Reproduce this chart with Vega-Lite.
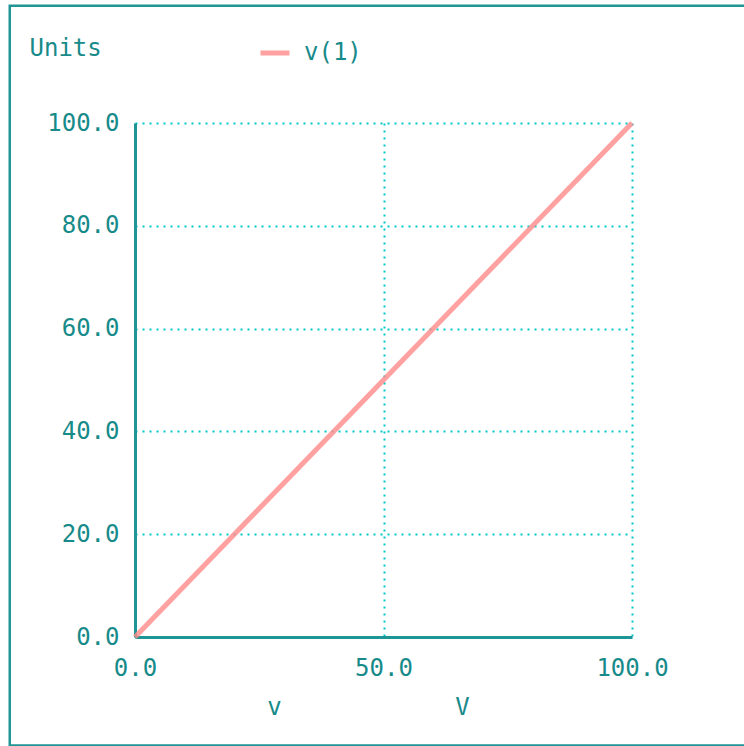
{
  "$schema": "https://vega.github.io/schema/vega-lite/v6.json",
  "autosize": "none",
  "width": 497,
  "height": 514,
  "padding": {"left": 135, "top": 123, "right": 112, "bottom": 109},
  "background": "white",
  "config": {
    "view": {"stroke": null},
    "font": "DejaVu Sans Mono"
  },
  "layer": [
    {
      "data": {"values": [
        {"v": 0, "value": 0, "series": "v(1)"},
        {"v": 100, "value": 100, "series": "v(1)"}
      ]},
      "mark": {"type": "line", "strokeWidth": 5, "opacity": 0.8, "strokeCap": "butt", "clip": false},
      "encoding": {
        "x": {
          "field": "v", "type": "quantitative",
          "scale": {"domain": [0, 100], "nice": false, "zero": false},
          "axis": {
            "values": [0, 50, 100], "format": ".1f",
            "title": "v\u00a0\u00a0\u00a0\u00a0\u00a0\u00a0\u00a0\u00a0\u00a0\u00a0\u00a0\u00a0V",
            "titleFont": "DejaVu Sans Mono", "titleFontSize": 24, "titleFontWeight": "normal",
            "titleColor": "#178a8a", "titleAlign": "center", "titleAnchor": null,
            "titleX": 233, "titleY": 70, "titleBaseline": "middle",
            "labelFont": "DejaVu Sans Mono", "labelFontSize": 24, "labelColor": "#178a8a",
            "labelPadding": 19, "labelFlush": false, "labelOverlap": false,
            "ticks": false, "domainColor": "#1f9595", "domainWidth": 3,
            "grid": true, "gridColor": "#00c8c8", "gridDash": [2, 5], "gridWidth": 2, "gridOpacity": 1
          }
        },
        "y": {
          "field": "value", "type": "quantitative",
          "scale": {"domain": [0, 100], "nice": false, "zero": false},
          "axis": {
            "values": [0, 20, 40, 60, 80, 100], "format": ".1f",
            "title": "Units",
            "titleFont": "DejaVu Sans Mono", "titleFontSize": 24, "titleFontWeight": "normal",
            "titleColor": "#178a8a", "titleAngle": 0, "titleAlign": "left", "titleAnchor": null,
            "titleX": -106, "titleY": -75, "titleBaseline": "middle",
            "labelFont": "DejaVu Sans Mono", "labelFontSize": 24, "labelColor": "#178a8a",
            "labelPadding": 16, "labelFlush": false, "labelOverlap": false, "labelBaseline": "middle",
            "ticks": false, "domainColor": "#1f9595", "domainWidth": 3,
            "grid": true, "gridColor": "#00c8c8", "gridDash": [2, 5], "gridWidth": 2, "gridOpacity": 1
          }
        },
        "color": {
          "field": "series", "type": "nominal",
          "scale": {"domain": ["v(1)"], "range": ["#ff8a8a"]},
          "legend": {
            "title": null, "orient": "none", "legendX": 123, "legendY": -87,
            "symbolType": "stroke", "symbolSize": 841, "symbolStrokeWidth": 5,
            "labelFont": "DejaVu Sans Mono", "labelFontSize": 24, "labelColor": "#178a8a",
            "labelOffset": 12, "padding": 0, "symbolOffset": 0
          }
        }
      }
    },
    {
      "data": {"values": [{"frame": "border"}]},
      "mark": {"type": "rect", "fill": null, "filled": false, "stroke": "#1f9595", "strokeWidth": 2.5, "clip": false},
      "encoding": {
        "x": {"datum": -25.2, "type": "quantitative", "scale": {"domain": [0, 100], "nice": false, "zero": false}},
        "x2": {"datum": 200},
        "y": {"datum": 122.8, "type": "quantitative", "scale": {"domain": [0, 100], "nice": false, "zero": false}},
        "y2": {"datum": -21.1}
      }
    }
  ]
}
